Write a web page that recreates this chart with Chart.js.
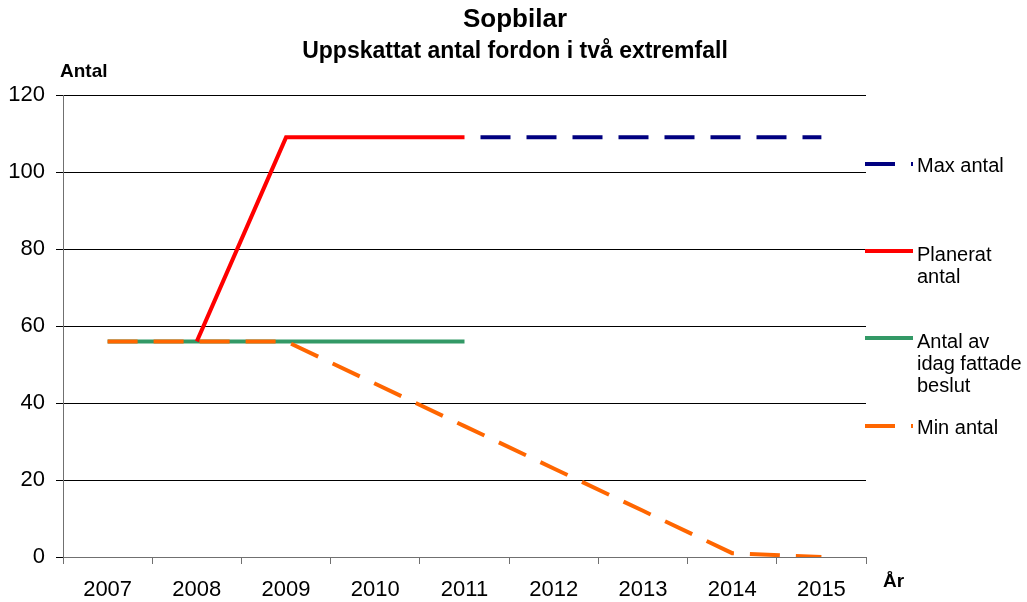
<!DOCTYPE html>
<html>
<head>
<meta charset="utf-8">
<script src="https://cdn.jsdelivr.net/npm/chart.js@4"></script>
<style>
  body { margin: 0; background: #fff; }
  canvas { display: block; }
</style>
</head>
<body>
<canvas id="sopbilar" width="1027" height="602"></canvas>
<script>
const years = ['2007', '2008', '2009', '2010', '2011', '2012', '2013', '2014', '2015'];
const maxAntal = [null, null, null, null, 109, 109, 109, 109, 109];
const planeratAntal = [null, 56, 109, 109, 109, null, null, null, null];
const fattadeBeslut = [56, 56, 56, 56, 56, null, null, null, null];
const minAntal = [56, 56, 56, 45, 34, 23, 12, 1, 0];

const FONT = "'Liberation Sans', Arial, sans-serif";

// legend drawn by hand on the right, Excel style
const legendRows = [
    { lines: ['Max antal'], color: '#000080', dash: [30, 16], y: 164, ty: 166 },
    { lines: ['Planerat', 'antal'], color: '#FF0000', dash: [], y: 251, ty: 255 },
    { lines: ['Antal av', 'idag fattade', 'beslut'], color: '#339966', dash: [], y: 338, ty: 342 },
    { lines: ['Min antal'], color: '#FF6600', dash: [30, 16], y: 426, ty: 428 }
];

const extras = {
    id: 'extras',
    afterDraw(chart) {
        const ctx = chart.ctx;
        ctx.save();
        ctx.fillStyle = '#000';
        ctx.textBaseline = 'middle';

        // titles centred over the whole picture
        ctx.textAlign = 'center';
        ctx.font = 'bold 26px ' + FONT;
        ctx.fillText('Sopbilar', 515, 20);
        ctx.font = 'bold 23px ' + FONT;
        ctx.fillText('Uppskattat antal fordon i två extremfall', 515, 52);

        ctx.font = 'bold 19px ' + FONT;
        ctx.textAlign = 'left';
        ctx.fillText('Antal', 60, 72);
        ctx.fillText('År', 883, 582);

        ctx.font = '20px ' + FONT;
        legendRows.forEach(row => {
            ctx.beginPath();
            ctx.strokeStyle = row.color;
            ctx.lineWidth = 4;
            ctx.setLineDash(row.dash);
            ctx.moveTo(865, row.y);
            ctx.lineTo(913, row.y);
            ctx.stroke();
            ctx.setLineDash([]);
            row.lines.forEach((t, i) => ctx.fillText(t, 917, row.ty + i * 22));
        });
        ctx.restore();
    }
};

const ctx = document.getElementById('sopbilar').getContext('2d');
new Chart(ctx, {
    type: 'line',
    data: {
        labels: years,
        datasets: [
            { label: 'Min antal', data: minAntal, borderColor: '#FF6600', borderWidth: 4, borderDash: [30, 16], order: 0 },
            { label: 'Planerat antal', data: planeratAntal, borderColor: '#FF0000', borderWidth: 4, order: 1 },
            { label: 'Antal av idag fattade beslut', data: fattadeBeslut, borderColor: '#339966', borderWidth: 4, order: 2 },
            { label: 'Max antal', data: maxAntal, borderColor: '#000080', borderWidth: 4, borderDash: [30, 16], borderDashOffset: 30, order: 3 }
        ]
    },
    options: {
        responsive: false,
        animation: false,
        elements: {
            point: { radius: 0, hoverRadius: 0 },
            line: { tension: 0, fill: false, borderCapStyle: 'butt' }
        },
        layout: { padding: { left: 0, right: 161, top: 95, bottom: 0 } },
        plugins: {
            legend: { display: false },
            tooltip: { enabled: false }
        },
        scales: {
            x: {
                offset: true,
                grid: { offset: true, drawOnChartArea: false, color: '#707070', tickLength: 7 },
                border: { color: '#707070' },
                ticks: { color: '#000', font: { family: FONT, size: 22 }, padding: 13, maxRotation: 0 },
                afterFit(scale) { scale.height = 45; }
            },
            y: {
                min: 0,
                max: 120,
                ticks: { stepSize: 20, color: '#000', font: { family: FONT, size: 22 }, padding: 11 },
                grid: { color: '#000', tickLength: 7 },
                border: { color: '#707070' },
                afterFit(scale) { scale.width = 63; }
            }
        }
    },
    plugins: [extras]
});
</script>
</body>
</html>
